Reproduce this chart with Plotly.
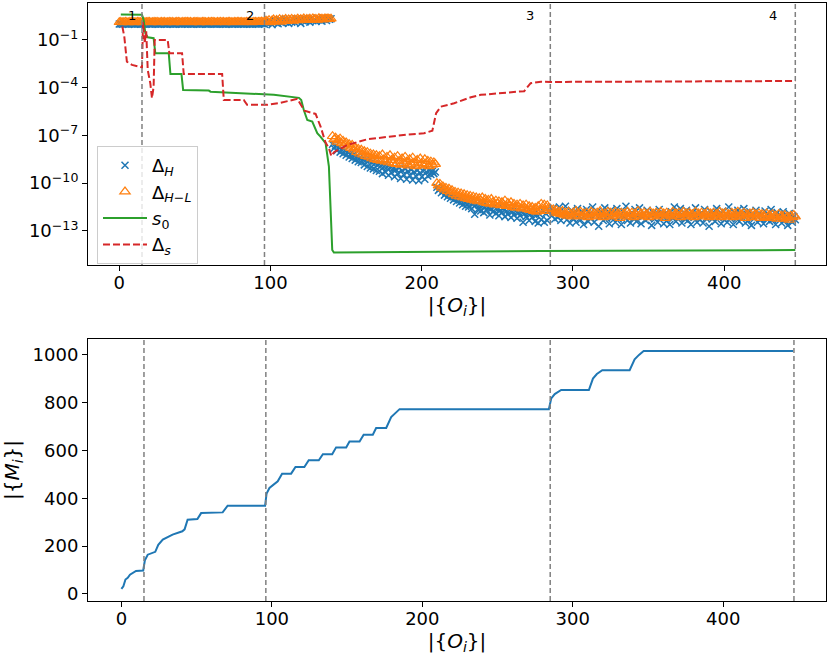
import plotly.graph_objects as go

# ---------------- data ----------------
stage_ends = [15, 96, 285, 447]
stage_labels = ["1", "2", "3", "4"]

# log10 of Delta_H for |{O_i}| = 0 .. 447
dH_log = [
    # 0-95
    0.00, 0.01, -0.01, 0.00, 0.02, 0.00, -0.01, 0.01, 0.00, 0.01,
    -0.01, 0.00, 0.02, 0.01, 0.00, -0.01, 0.01, 0.00, 0.00, 0.02,
    0.01, -0.01, 0.00, 0.01, 0.00, 0.02, -0.01, 0.00, 0.01, 0.00,
    0.01, -0.01, 0.00, 0.02, 0.00, 0.01, -0.01, 0.00, 0.01, 0.02,
    0.00, -0.01, 0.01, 0.00, 0.02, 0.01, 0.00, 0.01, -0.01, 0.00,
    0.02, 0.00, 0.01, -0.01, 0.00, 0.01, 0.02, 0.00, -0.01, 0.01,
    0.00, 0.02, 0.01, 0.00, -0.01, 0.01, 0.00, 0.02, 0.00, 0.01,
    -0.01, 0.00, 0.01, 0.02, 0.00, -0.01, 0.01, 0.00, 0.02, 0.01,
    0.00, 0.01, -0.01, 0.00, 0.02, 0.00, 0.01, 0.00, -0.01, 0.02,
    0.01, 0.00, 0.02, 0.01, 0.03, 0.02,
    # 96-140
    -0.02, 0.10, 0.05, 0.18, 0.12, -0.04, 0.08, 0.22, 0.18, 0.02,
    0.25, 0.10, 0.06, 0.28, 0.15, 0.30, 0.04, 0.20, 0.12, 0.26,
    0.10, 0.32, 0.18, 0.28, 0.04, 0.22, 0.33, 0.14, 0.30, 0.24,
    0.12, 0.34, 0.20, 0.30, 0.16, 0.35, 0.26, 0.32, 0.18, 0.36,
    0.28, 0.22, 0.34, 0.30, 0.33,
    # 141-209
    -7.55, -7.80, -7.65, -7.95, -7.75, -8.05, -7.90, -8.15, -7.95, -8.25,
    -8.05, -8.35, -8.15, -8.45, -8.20, -8.55, -8.30, -8.65, -8.40, -8.70,
    -8.50, -8.85, -8.55, -8.95, -8.60, -9.05, -8.70, -9.10, -8.75, -9.20,
    -8.85, -9.25, -8.90, -9.40, -8.95, -9.30, -9.00, -9.50, -9.05, -9.35,
    -9.10, -9.60, -9.15, -9.40, -9.05, -9.70, -9.20, -9.45, -9.10, -9.75,
    -9.25, -9.50, -9.15, -9.80, -9.30, -9.55, -9.20, -9.85, -9.35, -9.60,
    -9.25, -9.75, -9.30, -9.55, -9.20, -9.45, -9.25, -9.40, -9.30,
    # 210-284
    -10.25, -10.45, -10.35, -10.60, -10.50, -10.75, -10.60, -10.85, -10.70, -10.95,
    -10.80, -11.05, -10.85, -11.15, -10.95, -11.25, -11.00, -11.35, -11.10, -11.45,
    -11.15, -11.50, -11.20, -11.60, -11.30, -11.95, -11.35, -11.65, -11.40, -11.75,
    -11.45, -11.85, -11.50, -11.70, -11.55, -12.00, -11.60, -11.80, -11.50, -11.90,
    -11.65, -12.05, -11.70, -11.85, -11.60, -12.10, -11.75, -11.95, -11.70, -12.15,
    -11.80, -12.00, -11.75, -12.20, -11.85, -12.05, -11.80, -12.45, -11.90, -12.10,
    -11.85, -12.35, -11.95, -12.15, -11.90, -12.40, -12.00, -12.50, -11.95, -12.30,
    -11.70, -12.45, -11.90, -12.35, -11.80,
    # 285-447
    -11.75, -12.05, -11.55, -12.25, -11.85, -12.15, -11.50, -12.35, -11.90, -12.10,
    -11.45, -12.30, -11.95, -12.50, -11.70, -12.20, -11.90, -12.45, -11.60, -12.05,
    -12.30, -11.80, -12.60, -12.00, -11.65, -12.40, -11.90, -12.20, -11.50, -12.45,
    -12.00, -11.80, -12.70, -12.10, -11.85, -12.35, -11.55, -12.20, -12.00, -12.55,
    -11.70, -12.15, -11.95, -12.45, -11.60, -12.25, -12.00, -12.60, -11.80, -12.10,
    -11.45, -12.35, -12.00, -12.50, -11.85, -12.20, -11.65, -12.40, -12.05, -11.55,
    -12.55, -12.10, -11.90, -12.35, -11.70, -12.20, -12.00, -12.65, -11.85, -12.25,
    -11.95, -12.45, -11.65, -12.15, -12.00, -12.55, -11.90, -12.35, -12.10, -12.60,
    -11.80, -12.20, -11.50, -12.40, -11.95, -12.15, -11.60, -12.50, -12.05, -12.25,
    -11.70, -12.35, -11.95, -12.60, -11.85, -12.15, -11.55, -12.45, -12.00, -12.30,
    -11.90, -12.50, -11.65, -12.20, -12.05, -12.70, -11.80, -12.25, -11.95, -12.40,
    -11.60, -12.15, -12.00, -12.55, -11.75, -12.30, -11.90, -12.45, -11.50, -12.20,
    -12.05, -12.60, -11.85, -12.25, -11.70, -12.40, -12.00, -12.15, -11.60, -12.50,
    -11.95, -12.35, -11.80, -12.65, -12.05, -12.20, -11.70, -12.45, -11.90, -12.30,
    -12.00, -12.55, -11.75, -12.25, -11.95, -12.40, -11.65, -12.30, -12.10, -12.60,
    -11.85, -12.20, -12.00, -12.50, -11.80, -12.35, -12.05, -12.65, -11.90, -12.25,
    -12.45, -12.10, -12.30,
]

# log10 of Delta_{H-L} for |{O_i}| = 0 .. 447
dHL_log = [
    # 0-95
    0.11, 0.12, 0.10, 0.11, 0.13, 0.11, 0.10, 0.12, 0.11, 0.12,
    0.10, 0.11, 0.13, 0.12, 0.11, 0.10, 0.12, 0.11, 0.11, 0.13,
    0.12, 0.10, 0.11, 0.12, 0.11, 0.13, 0.10, 0.11, 0.12, 0.11,
    0.12, 0.10, 0.11, 0.13, 0.11, 0.12, 0.10, 0.11, 0.12, 0.13,
    0.11, 0.10, 0.12, 0.11, 0.13, 0.12, 0.11, 0.12, 0.10, 0.11,
    0.13, 0.11, 0.12, 0.10, 0.11, 0.12, 0.13, 0.11, 0.10, 0.12,
    0.11, 0.13, 0.12, 0.11, 0.10, 0.12, 0.11, 0.13, 0.11, 0.12,
    0.10, 0.11, 0.12, 0.13, 0.11, 0.10, 0.12, 0.11, 0.13, 0.12,
    0.11, 0.12, 0.10, 0.11, 0.13, 0.11, 0.12, 0.11, 0.10, 0.13,
    0.12, 0.11, 0.13, 0.12, 0.14, 0.13,
    # 96-140
    0.12, 0.20, 0.15, 0.24, 0.10, 0.22, 0.28, 0.16, 0.26, 0.19,
    0.30, 0.14, 0.27, 0.22, 0.31, 0.18, 0.28, 0.24, 0.32, 0.20,
    0.29, 0.25, 0.33, 0.22, 0.30, 0.26, 0.34, 0.24, 0.31, 0.27,
    0.33, 0.25, 0.35, 0.28, 0.32, 0.26, 0.36, 0.30, 0.33, 0.28,
    0.35, 0.31, 0.34, 0.30, 0.33,
    # 141-209
    -7.05, -7.25, -7.15, -7.40, -7.30, -7.20, -7.50, -7.35, -7.60, -7.45,
    -7.70, -7.55, -7.80, -7.60, -7.90, -7.75, -8.05, -7.85, -8.15, -7.90,
    -8.20, -8.00, -8.30, -8.05, -8.35, -8.15, -8.45, -8.20, -8.50, -8.25,
    -8.55, -8.30, -8.60, -8.20, -8.50, -8.65, -8.35, -8.70, -8.25, -8.55,
    -8.75, -8.40, -8.80, -8.30, -8.60, -8.85, -8.45, -8.75, -8.35, -8.65,
    -8.90, -8.50, -8.80, -8.40, -8.70, -8.95, -8.55, -8.85, -8.45, -8.75,
    -8.90, -8.50, -8.80, -8.60, -8.95, -8.65, -8.85, -8.70, -8.80,
    # 210-284
    -10.00, -10.15, -10.05, -10.30, -10.20, -10.40, -10.30, -10.50, -10.35, -10.60,
    -10.45, -10.70, -10.55, -10.80, -10.60, -10.85, -10.65, -10.90, -10.70, -10.95,
    -10.75, -11.00, -10.80, -11.05, -10.85, -11.10, -10.90, -11.15, -10.95, -11.10,
    -10.90, -11.20, -11.00, -11.25, -11.05, -11.30, -11.00, -11.20, -11.35, -11.10,
    -11.30, -11.15, -11.40, -11.20, -11.35, -11.10, -11.45, -11.25, -11.40, -11.20,
    -11.50, -11.30, -11.55, -11.35, -11.50, -11.30, -11.60, -11.40, -11.55, -11.35,
    -11.65, -11.45, -11.70, -11.50, -11.75, -11.55, -11.80, -11.45, -11.70, -11.30,
    -11.60, -11.35, -11.75, -11.40, -11.55,
    # 285-447
    -11.60, -11.75, -11.65, -11.85, -11.70, -11.90, -11.80, -11.95, -11.75, -12.00,
    -11.85, -12.05, -11.80, -11.95, -12.10, -11.85, -12.00, -11.75, -11.90, -12.05,
    -11.80, -12.10, -11.90, -12.00, -11.85, -12.15, -11.95, -11.80, -12.05, -11.90,
    -12.10, -11.85, -12.00, -11.75, -11.95, -12.15, -11.90, -12.05, -11.80, -12.00,
    -11.85, -12.10, -11.95, -11.80, -12.05, -11.90, -12.20, -11.85, -12.00, -11.90,
    -12.10, -11.80, -11.95, -12.05, -11.85, -12.15, -11.90, -12.00, -11.75, -12.05,
    -11.90, -12.10, -11.85, -12.00, -11.95, -12.15, -11.80, -12.05, -11.90, -12.00,
    -11.85, -12.10, -11.95, -11.80, -12.05, -11.90, -12.20, -11.85, -12.00, -11.95,
    -12.10, -11.80, -12.05, -11.90, -12.00, -11.85, -12.15, -11.95, -11.80, -12.05,
    -11.90, -12.10, -11.85, -12.00, -11.95, -12.15, -11.80, -12.05, -11.90, -12.00,
    -11.85, -12.10, -11.95, -12.00, -11.80, -12.15, -11.90, -12.05, -11.85, -12.10,
    -11.95, -12.00, -11.80, -12.15, -11.90, -12.05, -11.85, -12.10, -11.95, -12.00,
    -11.85, -12.15, -11.90, -12.05, -11.80, -12.10, -11.95, -12.00, -11.85, -12.20,
    -11.95, -12.05, -11.90, -12.15, -11.85, -12.00, -11.95, -12.10, -11.90, -12.20,
    -11.95, -12.05, -12.15, -11.90, -12.10, -12.00, -12.20, -11.95, -12.10, -12.05,
    -12.25, -11.95, -12.15, -12.05, -12.25, -12.00, -12.20, -12.10, -12.30, -12.05,
    -12.15, -12.00, -12.10,
]

assert len(dH_log) == len(dHL_log) == 448
obs_x = list(range(len(dH_log)))

# s_0 (log10) vertices
s0_x = [1, 15, 16.1, 17.2, 18.8, 22.7, 23.8, 32.7, 33.8, 41.1, 42.2, 59.2, 60.3, 95.6,
        102.2, 118.8, 120.3, 122, 124.3, 127.6, 130.9, 133, 136.4, 138.6, 140.8, 141.9,
        278.8, 447]
s0_log = [0.60, 0.58, 0.26, -0.58, -0.83, -0.89, -1.84, -1.84, -3.14, -3.14, -4.14, -4.18,
          -4.25, -4.39, -4.45, -4.64, -4.77, -5.40, -6.03, -6.13, -6.86, -7.07, -7.49,
          -8.96, -14.20, -14.36, -14.26, -14.20]

# Delta_s (log10) vertices
ds_x = [2, 3.3, 5, 8.4, 15, 15.7, 16.8, 17.8, 18.8, 20.5, 21.6, 22.7, 23.4, 32, 33.1,
        41.5, 42.6, 68, 69.1, 82.3, 84.5, 97.8, 106.6, 117.7, 122.5, 129.8, 133.1, 136.4,
        138.6, 140.2, 142, 150.8, 164, 177.3, 190, 201.5, 207, 209.5, 212.6, 221.4,
        232.5, 239, 255, 267.7, 272, 278.8, 285, 447]
ds_log = [-0.16, -0.79, -2.36, -2.57, -2.72, 0.12, -1.20, -0.45, -2.90, -3.72, -4.66,
          -3.93, -1.00, -1.00, -1.84, -1.84, -3.14, -3.14, -4.77, -4.77, -5.08, -5.08,
          -4.95, -4.70, -5.45, -5.65, -6.45, -7.45, -7.80, -8.30, -8.05, -7.60, -7.24,
          -7.07, -6.95, -6.86, -6.70, -5.60, -5.19, -4.98, -4.60, -4.45, -4.32, -4.22,
          -3.72, -3.63, -3.64, -3.58]

# |{M_i}| vertices
m_x = [0, 1.3, 2.7, 4.2, 5.7, 7.5, 9.7, 14.5, 15.6, 17.5, 22.5, 24.5, 27.5, 34, 40.5,
       42, 44, 50.5, 53, 67.3, 70.6, 95.5, 96.5, 98.4, 103.9, 106.8, 112.8, 115.7,
       121.6, 124.5, 131.2, 133.9, 140.1, 142.7, 149.4, 151.6, 158.3, 161, 167.1, 169.3,
       176, 179.3, 184.9, 284.1, 285.7, 288, 292.3, 310.7, 313.4, 316, 319.6, 337.8,
       339.5, 341.1, 344, 347.1, 446.5]
m_y = [21, 32, 60, 67, 80, 88, 96, 98, 140, 164, 176, 205, 227, 248, 262, 270, 310, 313,
       338, 341, 369, 369, 420, 443, 471, 503, 503, 531, 531, 559, 559, 584, 584, 613,
       613, 638, 638, 666, 666, 694, 694, 740, 773, 773, 818, 836, 853, 853, 901, 920,
       936, 936, 962, 981, 1000, 1016, 1016]

top_ticks = [-1, -4, -7, -10, -13]
x_ticks = [0, 100, 200, 300, 400]
m_ticks = [0, 200, 400, 600, 800, 1000]

# ---------------- figure ----------------
W, H = 830, 661
BLUE, ORANGE, GREEN, RED = "#1f77b4", "#ff7f0e", "#2ca02c", "#d62728"
FONT = "DejaVu Sans"

fig = go.Figure()
fig.add_trace(go.Scatter(
    x=obs_x, y=[10 ** v for v in dH_log], mode="markers",
    name="Δ<sub><i>H</i></sub>",
    marker=dict(symbol="x-thin", size=7, color=BLUE, line=dict(width=1.5, color=BLUE)),
    xaxis="x", yaxis="y"))
fig.add_trace(go.Scatter(
    x=obs_x, y=[10 ** v for v in dHL_log], mode="markers",
    name="Δ<sub><i>H</i>−<i>L</i></sub>",
    marker=dict(symbol="triangle-up-open", size=9, color=ORANGE,
                line=dict(width=1.2, color=ORANGE)),
    xaxis="x", yaxis="y"))
fig.add_trace(go.Scatter(
    x=s0_x, y=[10 ** v for v in s0_log], mode="lines",
    name="<i>s</i><sub>0</sub>", line=dict(color=GREEN, width=2),
    xaxis="x", yaxis="y"))
fig.add_trace(go.Scatter(
    x=ds_x, y=[10 ** v for v in ds_log], mode="lines",
    name="Δ<sub><i>s</i></sub>", line=dict(color=RED, width=2, dash="7px,3px"),
    xaxis="x", yaxis="y"))
fig.add_trace(go.Scatter(
    x=m_x, y=m_y, mode="lines", showlegend=False,
    line=dict(color=BLUE, width=2), xaxis="x2", yaxis="y2"))

axis_common = dict(showline=True, mirror=True, linecolor="black", linewidth=1,
                   ticks="outside", ticklen=5, tickwidth=1, tickcolor="black",
                   showgrid=False, zeroline=False, automargin=False,
                   tickfont=dict(family=FONT, size=18, color="black"))
xtitle = dict(text="|{<i>O</i><sub><i>i</i></sub>}|", standoff=0,
              font=dict(family=FONT, size=20))

xdom = [88 / W, 826 / W]
fig.update_layout(
    width=W, height=H, margin=dict(l=0, r=0, t=0, b=0),
    paper_bgcolor="white", plot_bgcolor="white",
    font=dict(family=FONT, color="black"),
    xaxis=dict(domain=xdom, anchor="y", range=[-20.7, 467.3], tickvals=x_ticks,
               title=xtitle, ticklabelstandoff=-4, **axis_common),
    yaxis=dict(domain=[1 - 265 / H, 1 - 3 / H], anchor="x", type="log",
               range=[-15.14, 1.32], tickvals=[10 ** t for t in top_ticks],
               ticktext=["10<sup>−%d</sup>" % (-t) for t in top_ticks],
               **axis_common),
    xaxis2=dict(domain=xdom, anchor="y2", range=[-22.2, 468.3], tickvals=x_ticks,
                title=xtitle, ticklabelstandoff=-4, **axis_common),
    yaxis2=dict(domain=[1 - 601 / H, 1 - 339 / H], anchor="x2", range=[-29.8, 1066.5],
                tickvals=m_ticks,
                title=dict(text="|{<i>M</i><sub><i>i</i></sub>}|", standoff=8,
                           font=dict(family=FONT, size=20)),
                **axis_common),
    legend=dict(x=97 / W, y=1 - 146 / H, xanchor="left", yanchor="top",
                bgcolor="rgba(255,255,255,0.8)", bordercolor="#cccccc", borderwidth=1,
                font=dict(family=FONT, size=18), tracegroupgap=0, itemwidth=44),
    showlegend=True,
)

for xv in stage_ends:
    for yr in ("y domain", "y2 domain"):
        fig.add_shape(type="line", x0=xv, x1=xv, y0=0, y1=1,
                      xref="x" if yr == "y domain" else "x2", yref=yr,
                      line=dict(color="gray", width=1.5, dash="5px,3px"), layer="above")

label_shift = [-4, -8, -14, -16]
for xv, lab, sh in zip(stage_ends, stage_labels, label_shift):
    fig.add_annotation(x=xv, y=1, xref="x", yref="y domain", text=lab, showarrow=False,
                       xanchor="right", yanchor="top", xshift=sh, yshift=-3,
                       font=dict(family=FONT, size=13, color="black"))

fig.write_html("out.html", config={"displayModeBar": False},
               post_script="document.body.style.margin='0';document.body.style.overflow='hidden';")
